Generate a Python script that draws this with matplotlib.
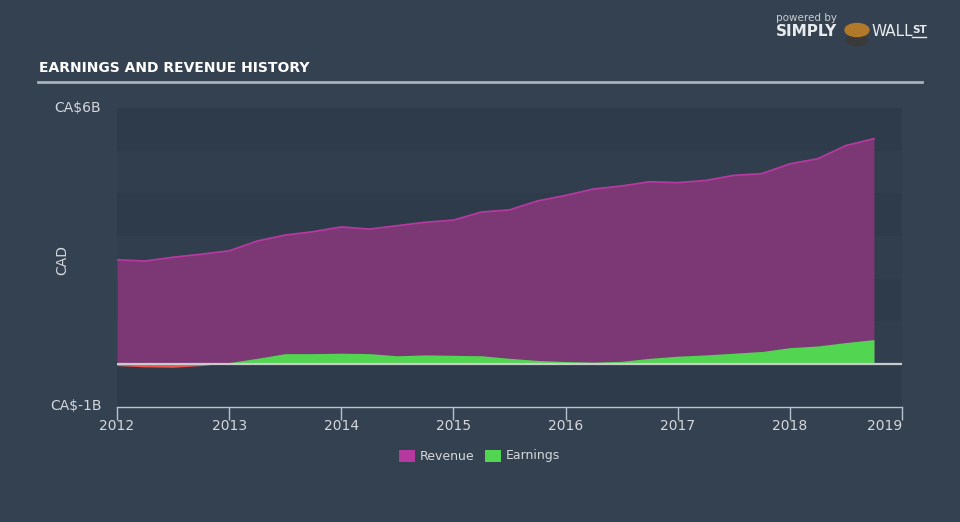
import matplotlib
matplotlib.use("Agg")
import matplotlib.pyplot as plt
from matplotlib.patches import Rectangle, Circle
import numpy as np

years = [2012.0, 2012.25, 2012.5, 2012.75, 2013.0, 2013.25, 2013.5, 2013.75,
         2014.0, 2014.25, 2014.5, 2014.75, 2015.0, 2015.25, 2015.5, 2015.75,
         2016.0, 2016.25, 2016.5, 2016.75, 2017.0, 2017.25, 2017.5, 2017.75,
         2018.0, 2018.25, 2018.5, 2018.75]
revenue = [2.44, 2.41, 2.50, 2.57, 2.65, 2.88, 3.02, 3.10,
           3.21, 3.16, 3.24, 3.32, 3.37, 3.56, 3.61, 3.82,
           3.95, 4.10, 4.17, 4.27, 4.25, 4.30, 4.42, 4.46,
           4.69, 4.81, 5.12, 5.28]
earnings = [-0.04, -0.07, -0.08, -0.04, 0.03, 0.13, 0.24, 0.24,
            0.25, 0.24, 0.19, 0.21, 0.20, 0.19, 0.13, 0.08,
            0.055, 0.04, 0.06, 0.13, 0.18, 0.21, 0.25, 0.29,
            0.38, 0.42, 0.50, 0.57]
xticks = [2012, 2013, 2014, 2015, 2016, 2017, 2018, 2019]
ytick_labels = {6: "CA$6B", -1: "CA$-1B"}

BG = "#344150"
BAND_DARK = "#2e3b4a"
BAND_LIGHT = "#313e4e"
REV_FILL = "#7b3875"
REV_LINE = "#b5399f"
EARN_POS = "#52d652"
EARN_NEG = "#ef5350"
TXT = "#d4d8dc"

fig = plt.figure(figsize=(9.6, 5.22), dpi=100, facecolor=BG)
ax = fig.add_axes([117/960, 1-406.5/522, 785/960, (406.5-108)/522])
ax.set_facecolor(BG)
ax.set_xlim(2012, 2019)
ax.set_ylim(-1, 6)

# horizontal bands
for i, lo in enumerate(range(-1, 6)):
    ax.axhspan(lo, lo+1, color=BAND_DARK if (i % 2 == 0) else BAND_LIGHT, zorder=0, lw=0)

x = np.array(years)
r = np.array(revenue)
e = np.array(earnings)
ax.fill_between(x, 0, r, color=REV_FILL, lw=0, zorder=2)
ax.plot(x, r, color=REV_LINE, lw=1.3, zorder=3)
ax.fill_between(x, 0, e, where=e >= 0, interpolate=True, color=EARN_POS, lw=0, zorder=4)
ax.fill_between(x, 0, e, where=e <= 0, interpolate=True, color=EARN_NEG, lw=0, zorder=4)
ax.axhline(0, color="#c8cacc", lw=1.6, zorder=5)

for s in ["top", "right", "left"]:
    ax.spines[s].set_visible(False)
ax.spines["bottom"].set_color("#b8c2cc")
ax.spines["bottom"].set_linewidth(1.0)
ax.set_xticks(xticks)
ax.set_xticklabels([str(t) for t in xticks])
ax.tick_params(axis="x", colors="#b8c2cc", length=9, width=1, labelcolor=TXT, labelsize=10, pad=0)
ax.set_yticks([])
for lab in ax.get_xticklabels()[-1:]:
    lab.set_horizontalalignment("right")

for v, s in ytick_labels.items():
    ax.text(-0.02, v, s, transform=ax.get_yaxis_transform(), ha="right", va="center",
            color=TXT, fontsize=10)
fig.text(62/960, 1-260/522, "CAD", rotation=90, ha="center", va="center", color=TXT, fontsize=10)

# title
fig.text(39/960, 1-68/522, "EARNINGS AND REVENUE HISTORY", color="white", fontsize=10,
         fontweight="bold", ha="left", va="center")
fig.add_artist(plt.Line2D([38/960, 922/960], [1-81.5/522, 1-81.5/522], color="#a9b1ba", lw=2))

# logo
fig.text(776/960, 1-18/522, "powered by", color="#c8ccd0", fontsize=7.5, ha="left", va="center")
fig.text(776/960, 1-32/522, "SIMPLY", color="#e8eaec", fontsize=11, fontweight="bold", ha="left", va="center")
fig.text(872/960, 1-32/522, "WALL", color="#e8eaec", fontsize=11, ha="left", va="center")
fig.text(912/960, 1-30/522, "ST", color="#e8eaec", fontsize=7.5, fontweight="bold", ha="left", va="center")
fig.add_artist(plt.Line2D([912/960, 926/960], [1-37/522, 1-37/522], color="#e8eaec", lw=1))
fig.add_artist(Circle((857/960, 1-30/522), 0.0125, transform=fig.transFigure, color="#b07a2a", zorder=3))
fig.add_artist(Circle((857/960, 1-40/522), 0.011, transform=fig.transFigure, color="#3a3a3a", zorder=2))

# legend
fig.add_artist(Rectangle((399/960, 1-462/522), 16/960, 12/522, transform=fig.transFigure,
                         color=REV_LINE, lw=0))
fig.text(420/960, 1-456/522, "Revenue", color=TXT, fontsize=9, ha="left", va="center")
fig.add_artist(Rectangle((485/960, 1-462/522), 16/960, 12/522, transform=fig.transFigure,
                         color=EARN_POS, lw=0))
fig.text(506/960, 1-456/522, "Earnings", color=TXT, fontsize=9, ha="left", va="center")

fig.savefig("out.png", dpi=100, facecolor=BG)
